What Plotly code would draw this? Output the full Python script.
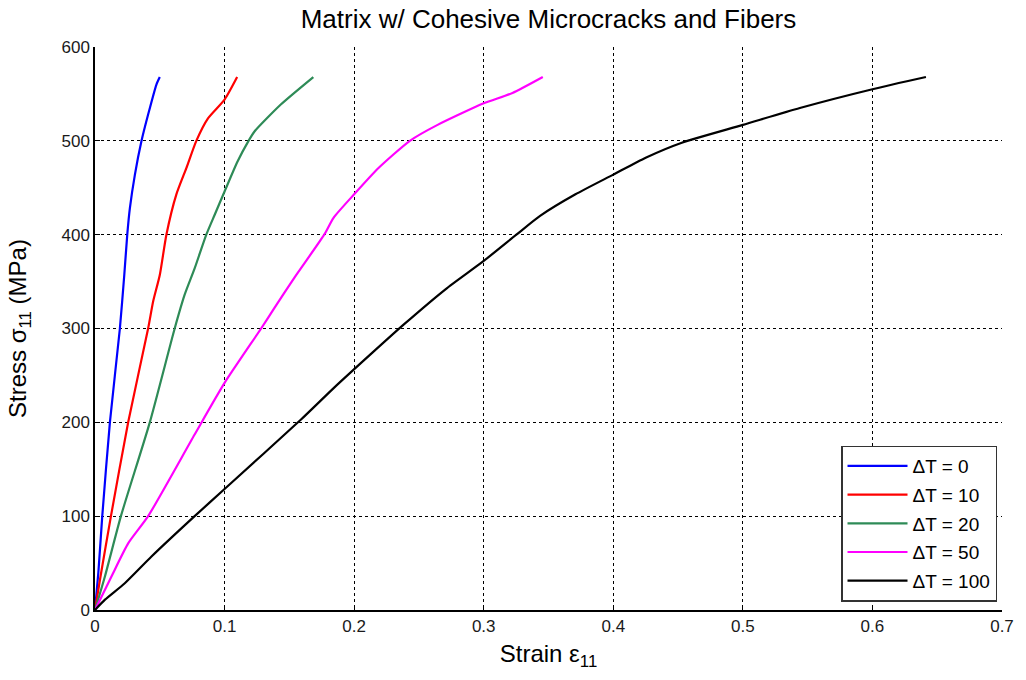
import plotly.graph_objects as go

# ---- data ----
labels = ["ΔT = 0", "ΔT = 10", "ΔT = 20", "ΔT = 50", "ΔT = 100"]
colors = ["#0000FF", "#FF0000", "#2E8B57", "#FF00FF", "#000000"]

strain_dT0 = [0, 0.0026, 0.0056, 0.0115, 0.0192, 0.0226, 0.0249, 0.0269, 0.0308, 0.0359, 0.041, 0.0474, 0.050]
stress_dT0 = [0, 40, 100, 200, 300, 357, 400, 428, 464, 500, 528, 560, 568]

strain_dT10 = [0, 0.0038, 0.0123, 0.0256, 0.041, 0.0449, 0.050, 0.0551, 0.0628, 0.0705, 0.0782, 0.0872, 0.100, 0.1097]
stress_dT10 = [0, 32, 100, 200, 300, 329, 357, 400, 443, 471, 500, 524, 544, 568]

strain_dT20 = [0, 0.0077, 0.020, 0.0423, 0.0615, 0.0692, 0.0769, 0.0859, 0.0923, 0.100, 0.110, 0.1185, 0.1231, 0.1436, 0.1685]
stress_dT20 = [0, 36, 100, 200, 300, 336, 364, 400, 421, 446, 478, 500, 510, 539, 568]

strain_dT50 = [0, 0.0128, 0.0256, 0.041, 0.0769, 0.100, 0.1282, 0.1385, 0.1538, 0.1769, 0.1841, 0.2, 0.2188, 0.243, 0.2644, 0.300, 0.3222, 0.3456]
stress_dT50 = [0, 36, 71, 100, 187, 242, 300, 322, 354, 400, 418, 443, 471, 500, 517, 540, 551, 568]

strain_dT100 = [0, 0.0077, 0.023, 0.0436, 0.0769, 0.100, 0.159, 0.1846, 0.2143, 0.2386, 0.2705, 0.300, 0.3252, 0.3435, 0.3708, 0.400, 0.425, 0.4529, 0.500, 0.544, 0.600, 0.6413]
stress_dT100 = [0, 11, 28.5, 57, 100, 129, 203, 237, 274.5, 304.6, 341.8, 372, 400, 420, 443, 464, 482, 498, 517, 535, 555, 568]

x_ticks = [0, 0.1, 0.2, 0.3, 0.4, 0.5, 0.6, 0.7]
x_ticklabels = ["0", "0.1", "0.2", "0.3", "0.4", "0.5", "0.6", "0.7"]
y_ticks = [0, 100, 200, 300, 400, 500, 600]

series = [
    (strain_dT0, stress_dT0),
    (strain_dT10, stress_dT10),
    (strain_dT20, stress_dT20),
    (strain_dT50, stress_dT50),
    (strain_dT100, stress_dT100),
]

FONT = "Liberation Sans, Arial, sans-serif"

fig = go.Figure()
for (xs, ys), name, col in zip(series, labels, colors):
    fig.add_trace(go.Scatter(
        x=xs, y=ys, mode="lines", name=name, legendgroup=name,
        line=dict(color=col, width=2.2, shape="spline", smoothing=0.6),
    ))

fig.update_layout(
    width=1026, height=680,
    margin=dict(l=95, r=18, t=47, b=70),
    paper_bgcolor="white", plot_bgcolor="white",
    font=dict(family=FONT, size=16, color="black"),
    title=dict(
        text="Matrix w/ Cohesive Microcracks and Fibers",
        x=0.5, xref="paper", xanchor="center",
        y=1 - 19 / 680, yref="container", yanchor="middle",
        font=dict(family=FONT, size=26, color="black"),
    ),
    showlegend=True,
    legend=dict(
        x=0.9945, y=0.015, xanchor="right", yanchor="bottom",
        bgcolor="white", bordercolor="#333333", borderwidth=1.5,
        font=dict(family=FONT, size=19, color="black"),
        itemwidth=60, tracegroupgap=1,
    ),
)

fig.update_xaxes(
    range=[0, 0.7], tickvals=x_ticks, ticktext=x_ticklabels,
    showline=True, linecolor="black", linewidth=1.5,
    ticks="inside", ticklen=5, tickcolor="black",
    showgrid=True, gridcolor="black", gridwidth=1, griddash="3px,3px",
    zeroline=False,
    tickfont=dict(family=FONT, size=17, color="#1a1a1a"),
    title=dict(text="Strain ε<sub>11</sub>", font=dict(family=FONT, size=24, color="black"), standoff=10),
)
fig.update_yaxes(
    range=[0, 600], tickvals=y_ticks,
    showline=True, linecolor="black", linewidth=1.5,
    ticks="inside", ticklen=5, tickcolor="black",
    showgrid=True, gridcolor="black", gridwidth=1, griddash="3px,3px",
    zeroline=False,
    tickfont=dict(family=FONT, size=17, color="#1a1a1a"),
    title=dict(text="Stress σ<sub>11</sub> (MPa)", font=dict(family=FONT, size=24, color="black"), standoff=28),
)

fig.write_html("out.html")
